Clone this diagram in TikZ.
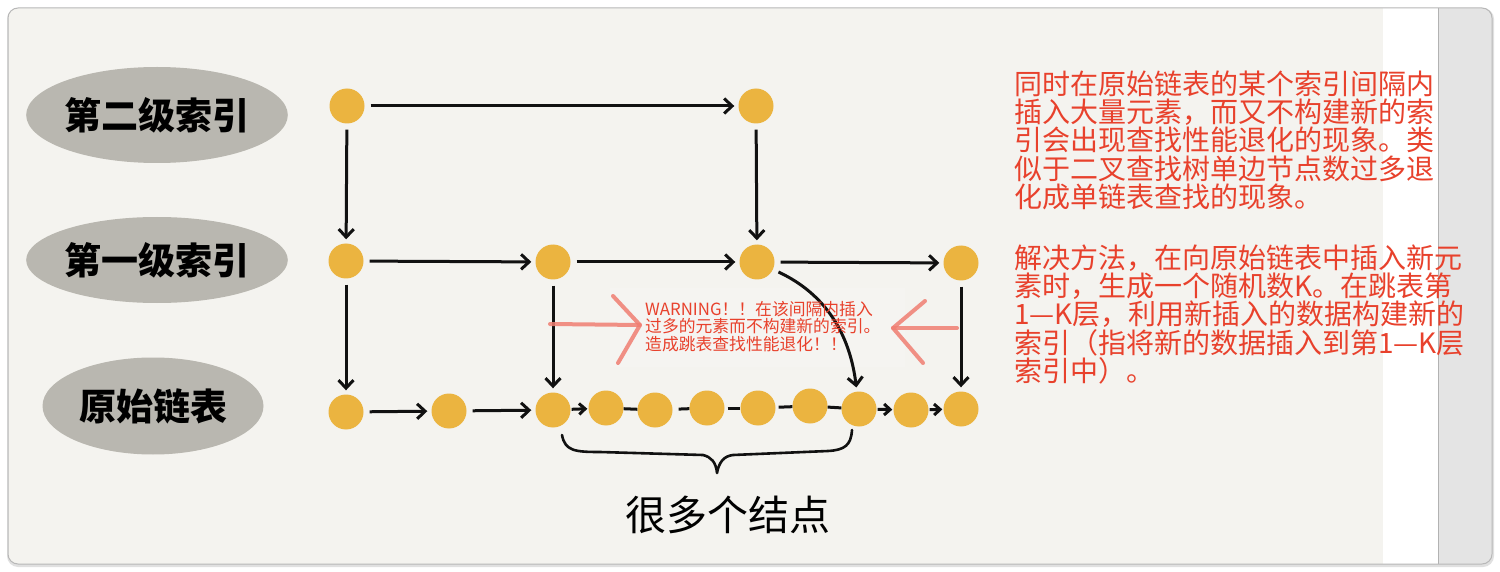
\documentclass[tikz,border=0pt]{standalone}
\usepackage{fontspec}
\newfontfamily\cjk{Noto Sans CJK SC}
\usetikzlibrary{arrows.meta,shapes.geometric}

\definecolor{paper}{HTML}{F4F3EF}
\definecolor{blob}{HTML}{B9B7B0}
\definecolor{dot}{HTML}{EBB440}
\definecolor{ink}{HTML}{111111}
\definecolor{note}{HTML}{E8412C}
\definecolor{hint}{HTML}{F07E72}
\definecolor{scroll}{HTML}{E4E4E4}

\tikzset{
  dotnode/.style={circle,fill=dot,minimum size=35pt,inner sep=0pt},
  link/.style={draw=ink,line width=3pt},
  arr/.style={link,-{Straight Barb[length=8pt,width=15pt]},shorten >=4pt,shorten <=6pt},
  sarr/.style={link,-{Straight Barb[length=6pt,width=11pt]},shorten >=1pt,shorten <=1pt},
  blobnode/.style={ellipse,fill=blob,inner sep=0pt,font=\cjk\bfseries\fontsize{37}{37}\selectfont,text=black},
  hintline/.style={draw=hint,line width=4pt,line cap=round,line join=round,opacity=.85},
  notetext/.style={anchor=base west,inner sep=0pt,text=note,font=\cjk\fontsize{28}{28}\selectfont},
  warntext/.style={anchor=base west,inner sep=0pt,text=note,font=\cjk\fontsize{16.8}{16.8}\selectfont}
}

\begin{document}
\begin{tikzpicture}[x=1pt,y=-1pt]
\useasboundingbox (0,0) rectangle (1500,572);
\fill[white] (0,0) rectangle (1500,572);

% window frame
\fill[black!12,rounded corners=11pt] (7,8) rectangle (1494,567);
\begin{scope}
  \clip[rounded corners=10pt] (8,8) rectangle (1492,564);
  \fill[paper] (8,8) rectangle (1492,564);
  \fill[white] (1383,8) rectangle (1438,564);
  \fill[scroll] (1438,8) rectangle (1492,564);
\end{scope}
\draw[black!30,line width=1pt] (1438,8) -- (1438,564);
\draw[black!28,line width=1pt,rounded corners=10pt] (8,8) rectangle (1492,564);

% level labels
\node[blobnode,minimum width=232pt,minimum height=96pt] (lv2) at (157,115) {第二级索引};
\node[blobnode,minimum width=226pt,minimum height=86pt] (lv1) at (157,260) {第一级索引};
\node[blobnode,minimum width=221pt,minimum height=97pt] (lv0) at (153,406) {原始链表};

% second-level index
\node[dotnode] (a1) at (347,106) {};
\node[dotnode] (a2) at (756,106) {};
% first-level index
\node[dotnode] (b1) at (346,261) {};
\node[dotnode] (b2) at (553,262) {};
\node[dotnode] (b3) at (757,262) {};
\node[dotnode] (b4) at (961,263) {};
% base list
\node[dotnode] (c1) at (346,412) {};
\node[dotnode] (c2) at (449,411) {};
\node[dotnode] (c3) at (553,410) {};
\node[dotnode] (c4) at (606,408) {};
\node[dotnode] (c5) at (655,410) {};
\node[dotnode] (c6) at (707,408) {};
\node[dotnode] (c7) at (758,408) {};
\node[dotnode] (c8) at (810,406) {};
\node[dotnode] (c9) at (859,409) {};
\node[dotnode] (c10) at (911,410) {};
\node[dotnode] (c11) at (961,409) {};

% faint backing of the warning note
\fill[white,opacity=.15] (610,288) rectangle (905,367);

% links
\draw[arr] (a1) -- (a2);
\draw[arr] (a1) -- (b1);
\draw[arr] (a2) -- (b3);
\draw[arr] (b1) -- (b2);
\draw[arr] (b2) -- (b3);
\draw[arr] (b3) -- (b4);
\draw[arr] (b1) -- (c1);
\draw[arr] (b2) -- (c3);
\draw[arr] (b4) -- (c11);
\draw[arr] (b3) to[out=-25,in=97] (c9);
\draw[arr] (c1) -- (c2);
\draw[arr] (c2) -- (c3);
\draw[sarr] (c3) -- (c4);
\draw[link] (c4) -- (c5);
\draw[link,shorten <=6pt] (c5) -- (c6);
\draw[link,shorten <=3pt] (c6) -- (c7);
\draw[link,shorten <=3pt] (c7) -- (c8);
\draw[link] (c8) -- (c9);
\draw[sarr] (c9) -- (c10);
\draw[sarr] (c10) -- (c11);

% brace under the crowded interval
\draw[link,line width=2.6pt,line cap=round,line join=round]
  (562,435) .. controls (565,451) and (575,452) .. (600,452)
  -- (703,455) .. controls (711,457) and (716,462) .. (717,473)
  .. controls (719,462) and (724,456) .. (733,455)
  -- (828,451) .. controls (845,450) and (851,445) .. (852,430);
\node[font=\cjk\fontsize{41}{41}\selectfont,text=black,inner sep=0pt] (many) at (728,515) {很多个结点};

% warning note with inward arrows
\node[warntext] (w1) at (645,315.3) {WARNING！！在该间隔内插入};
\node[warntext] (w2) at (645,332.8) {过多的元素而不构建新的索引。};
\node[warntext] (w3) at (645,350.3) {造成跳表查找性能退化！！};
\coordinate (wl) at (640,325);
\coordinate (wr) at (893,328);
\draw[hintline] (550,324) -- (wl);
\draw[hintline] (613,296) -- (wl) -- (618,363);
\draw[hintline] (957,328) -- (wr);
\draw[hintline] (925,301) -- (wr) -- (923,363);

% explanation on the right
\foreach \t [count=\i] in {同时在原始链表的某个索引间隔内,插入大量元素，而又不构建新的索,引会出现查找性能退化的现象。类,似于二叉查找树单边节点数过多退,化成单链表查找的现象。}
  \node[notetext] (p\i) at (1014,{94.1+28.4*(\i-1)}) {\t};
\foreach \t [count=\i] in {解决方法，在向原始链表中插入新元,素时，生成一个随机数K。在跳表第,1—K层，利用新插入的数据构建新的,索引（指将新的数据插入到第1—K层,索引中）。}
  \node[notetext] (q\i) at (1014,{268.1+28.4*(\i-1)}) {\t};
\end{tikzpicture}
\end{document}
